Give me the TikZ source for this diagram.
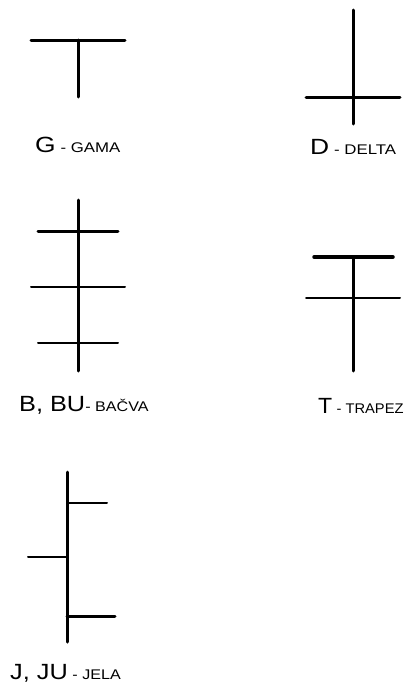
\documentclass[tikz,border=0pt]{standalone}
\usepackage{fontspec}
\setmainfont{Liberation Sans}
\newcommand{\signname}[3][1.2]{\scalebox{#1}[1]{\fontsize{22}{22}\selectfont #2\fontsize{14}{14}\selectfont\spaceskip=4pt\relax#3}}

\begin{document}
\begin{tikzpicture}[x=1pt,y=-1pt,line cap=round,
  heavy/.style={line width=3pt},
  light/.style={line width=2pt},
  lbl/.style={anchor=base west,inner sep=0pt}]
\useasboundingbox (0,0) rectangle (411,688);
\draw[heavy] (31,40) -- (125,40);
\draw[heavy] (78,40) -- (78,97);
\node[lbl] (gama) at (35,152) {\signname{G}{ - GAMA}};
\draw[heavy] (353,10) -- (353,124);
\draw[heavy] (306,97) -- (400,97);
\node[lbl] (delta) at (310,154) {\signname{D}{ - DELTA}};
\draw[heavy] (78,200) -- (78,371);
\draw[heavy] (38,231) -- (118,231);
\draw[light] (31,287) -- (125,287);
\draw[light] (38,343) -- (118,343);
\node[lbl] (bacva) at (19,411) {\signname[1.15]{B, BU}{- BAČVA}};
\draw[heavy] (353,257) -- (353,371);
\draw[line width=3.5pt] (314,257) -- (393,257);
\draw[light] (306,298) -- (400,298);
\node[lbl] (trapez) at (318,413) {\signname[1.05]{T}{ - TRAPEZ}};
\draw[heavy] (67,472) -- (67,642);
\draw[light] (67,503) -- (107,503);
\draw[light] (28,557) -- (67,557);
\draw[heavy] (67,616) -- (115,616);
\node[lbl] (jela) at (10,679) {\signname[1.15]{J, JU}{ - JELA}};
\end{tikzpicture}
\end{document}
